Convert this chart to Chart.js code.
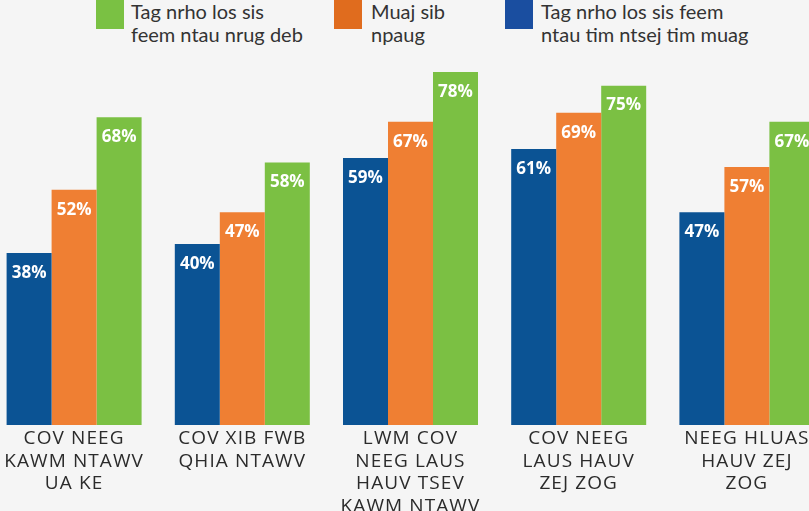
<!DOCTYPE html>
<html>
<head>
<meta charset="utf-8">
<script src="https://cdn.jsdelivr.net/npm/chart.js@4.4.0/dist/chart.umd.min.js"></script>
<style>
  html, body { margin: 0; padding: 0; background: #f5f5f5; width: 809px; height: 511px; overflow: hidden; }
  .item { position: absolute; top: 10px; }
  .swatch { position: absolute; top: 0; width: 28px; height: 29px; }
  .label { position: absolute; top: 0; font: 20px Lato, sans-serif; line-height: 23px; color: #333; white-space: nowrap; }
  #wrap { position: absolute; left: -10px; top: 0; width: 841px; height: 511px; }
</style>
</head>
<body>
<div id="legend"></div>
<div id="wrap"><canvas id="chart"></canvas></div>
<script>
// categories and series
const categories = [
  ['COV NEEG', 'KAWM NTAWV', 'UA KE'],
  ['COV XIB FWB', 'QHIA NTAWV'],
  ['LWM COV', 'NEEG LAUS', 'HAUV TSEV', 'KAWM NTAWV'],
  ['COV NEEG', 'LAUS HAUV', 'ZEJ ZOG'],
  ['NEEG HLUAS', 'HAUV ZEJ', 'ZOG']
];
const seriesNames = [
  'Tag nrho los sis feem ntau tim ntsej tim muag',
  'Muaj sib npaug',
  'Tag nrho los sis feem ntau nrug deb'
];
const faceToFace = [38, 40, 59, 61, 47];
const mixed = [52, 47, 67, 69, 57];
const distance = [68, 58, 78, 75, 67];

const barColors = ['#0b5394', '#ef7f33', '#7bc043'];
const swatchColors = ['#1a4ea0', '#e06c1e', '#7ac143'];

// legend (drawn in reverse order, wraps to two lines like the original)
const legendItems = [
  { i: 2, lines: ['Tag nrho los sis', 'feem ntau nrug deb'], x: 96, tx: 131 },
  { i: 1, lines: ['Muaj sib', 'npaug'], x: 334, tx: 371 },
  { i: 0, lines: ['Tag nrho los sis feem', 'ntau tim ntsej tim muag'], x: 505, tx: 541 }
];
const legend = document.getElementById('legend');
legendItems.forEach(it => {
  const sw = document.createElement('div');
  sw.className = 'swatch item';
  sw.style.left = it.x + 'px';
  sw.style.background = swatchColors[it.i];
  legend.appendChild(sw);
  const lb = document.createElement('div');
  lb.className = 'label item';
  lb.style.left = it.tx + 'px';
  lb.innerHTML = it.lines.join('<br>');
  lb.title = seriesNames[it.i];
  legend.appendChild(lb);
});

const spacing = {
  id: 'spacing',
  beforeLayout(chart) { chart.ctx.letterSpacing = '1.1px'; },
  beforeDraw(chart) { chart.ctx.letterSpacing = '1.1px'; }
};

const barLabels = {
  id: 'barLabels',
  afterDatasetsDraw(chart) {
    const ctx = chart.ctx;
    ctx.save();
    ctx.letterSpacing = '0px';
    ctx.fillStyle = '#ffffff';
    ctx.font = 'bold 17px "Open Sans", sans-serif';
    ctx.textAlign = 'center';
    ctx.textBaseline = 'middle';
    chart.data.datasets.forEach((ds, d) => {
      chart.getDatasetMeta(d).data.forEach((bar, i) => {
        ctx.fillText(ds.data[i] + '%', bar.x, bar.y + 20);
      });
    });
    ctx.restore();
  }
};

new Chart(document.getElementById('chart'), {
  type: 'bar',
  data: {
    labels: categories,
    datasets: [
      { label: seriesNames[0], data: faceToFace, backgroundColor: barColors[0] },
      { label: seriesNames[1], data: mixed, backgroundColor: barColors[1] },
      { label: seriesNames[2], data: distance, backgroundColor: barColors[2] }
    ]
  },
  options: {
    responsive: true,
    maintainAspectRatio: false,
    animation: false,
    categoryPercentage: 0.8026,
    barPercentage: 1,
    layout: { padding: { top: 63, left: 0, right: 0, bottom: 0 } },
    plugins: { legend: { display: false }, tooltip: { enabled: false } },
    scales: {
      x: {
        grid: { display: false, drawTicks: false },
        border: { display: false },
        ticks: {
          color: '#2b2b2b',
          font: { family: '"Open Sans", sans-serif', size: 19 },
          lineHeight: 21,
          padding: 2,
          maxRotation: 0,
          autoSkip: false
        },
        afterFit(scale) { scale.height = 86; }
      },
      y: { display: false, min: 0, max: 80 }
    }
  },
  plugins: [spacing, barLabels]
});
</script>
</body>
</html>
